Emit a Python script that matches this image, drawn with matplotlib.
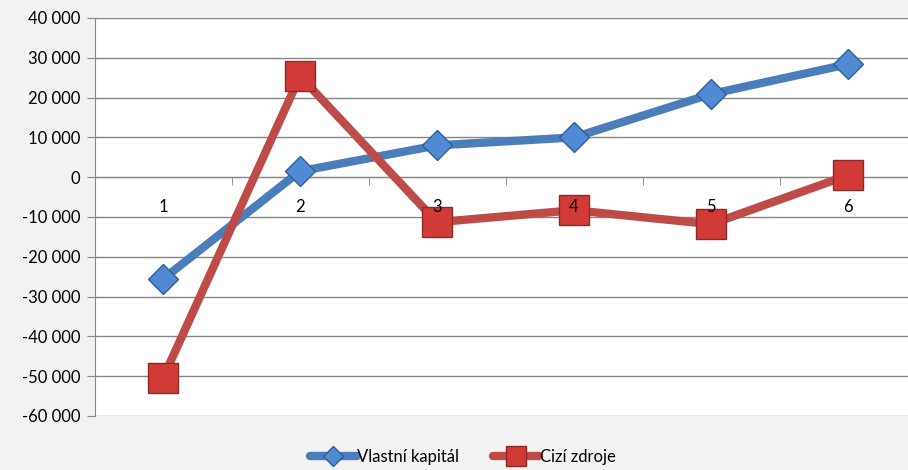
import matplotlib
matplotlib.use('Agg')
import matplotlib.pyplot as plt
from matplotlib.ticker import FuncFormatter, FixedLocator

categories = ['1', '2', '3', '4', '5', '6']
vlastni_kapital = [-25600, 1500, 8000, 10000, 20900, 28400]
cizi_zdroje = [-50500, 25400, -11300, -8300, -11800, 500]
series_names = ['Vlastní kapitál', 'Cizí zdroje']
y_ticks = [-60000, -50000, -40000, -30000, -20000, -10000, 0, 10000, 20000, 30000, 40000]

plt.rcParams['font.family'] = ['Lato', 'DejaVu Sans']
plt.rcParams['font.size'] = 12

BG = '#f2f2f2'
GRID = '#868686'
BLUE = '#4a7ebb'
RED = '#be4b48'

fig = plt.figure(figsize=(9.08, 4.70), dpi=100, facecolor=BG)
W, H = 908, 470
left, right, top, bottom = 94.5, 908, 18, 416
ax = fig.add_axes([left / W, (H - bottom) / H, (right - left) / W, (bottom - top) / H])
ax.set_facecolor('white')

x = list(range(1, len(categories) + 1))
step = 137.0
ax.set_xlim(0.5, 0.5 + (right - left) / step)
ax.set_ylim(y_ticks[0], y_ticks[-1])

for yv in y_ticks:
    ax.axhline(yv, color=GRID, lw=1, zorder=0.5)

ax.plot(x, vlastni_kapital, color=BLUE, lw=6, marker='D', ms=15,
        mfc='#4f8ad3', mec='#2f5f9a', mew=1, solid_capstyle='round',
        solid_joinstyle='round', zorder=2, label=series_names[0])
ax.plot(x, cizi_zdroje, color=RED, lw=6, marker='s', ms=21,
        mfc='#d23b35', mec='#8c2a27', mew=1, solid_capstyle='round',
        solid_joinstyle='round', zorder=2.1, label=series_names[1])

ax.set_axisbelow(False)
for s in ['top', 'right']:
    ax.spines[s].set_visible(False)
ax.spines['left'].set_color(GRID)
ax.spines['bottom'].set_position(('data', 0))
ax.spines['bottom'].set_color(GRID)
ax.spines['bottom'].set_zorder(0.6)
ax.spines['left'].set_zorder(0.6)

ax.set_yticks(y_ticks)
ax.yaxis.set_major_formatter(FuncFormatter(lambda v, p: f'{int(v):,}'.replace(',', ' ')))
ax.tick_params(axis='y', length=6, color=GRID, labelsize=12, pad=4)

ax.set_xticks(x)
ax.set_xticklabels(categories)
ax.xaxis.set_minor_locator(FixedLocator([i + 0.5 for i in x[:-1]]))
ax.tick_params(axis='x', which='major', length=0, pad=16, labelsize=12)
ax.tick_params(axis='x', which='minor', length=6, color=GRID, direction='out')
for lbl in ax.get_xticklabels():
    lbl.set_zorder(5)

handles, labels = ax.get_legend_handles_labels()
leg = fig.legend(handles, labels, loc='center', bbox_to_anchor=(463 / W, 13 / H),
                 ncol=2, frameon=False, fontsize=12, handlelength=2.8,
                 columnspacing=2.0, handletextpad=0.05, markerscale=0.7)

fig.savefig('out.png', dpi=100, facecolor=BG)
